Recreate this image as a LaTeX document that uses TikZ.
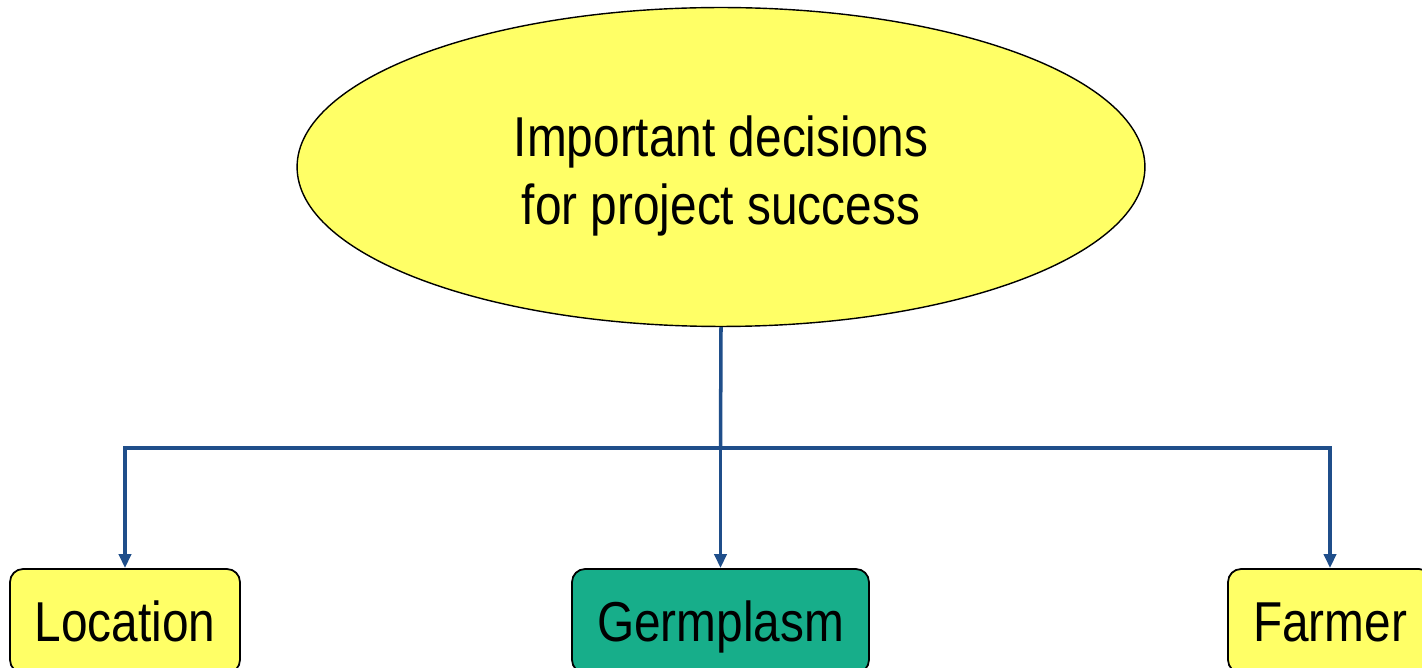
\documentclass[tikz,border=0pt]{standalone}
\usepackage{fontspec}
\setmainfont{Liberation Sans}[FakeStretch=0.85]
\usepackage{tikz}
\usetikzlibrary{shapes.geometric,arrows.meta}
\definecolor{boxyellow}{HTML}{FFFF66}
\definecolor{boxgreen}{HTML}{17AE8A}
\definecolor{linkblue}{HTML}{1F4E8A}
\begin{document}
\begin{tikzpicture}[x=0.02cm,y=-0.02cm,
  every node/.style={font=\fontsize{32}{39}\selectfont},
  choice/.style={draw=black,line width=1pt,rounded corners=0.26cm,minimum height=2.08cm,inner sep=0pt,text height=0.84cm,text depth=0cm},
  link/.style={draw=linkblue,line width=2pt},
  linkarrow/.style={link,-{Triangle[length=0.28cm,width=0.24cm]}}]
\useasboundingbox (0,0) rectangle (1422,668);
\node[ellipse,draw=black,line width=0.8pt,fill=boxyellow,minimum width=16.96cm,minimum height=6.38cm,inner sep=0pt,
  label={[align=center,yshift=-0.18cm]center:{Important decisions\\for project success}}] (goal) at (721,167) {};
\node[choice,fill=boxyellow,minimum width=4.6cm] (loc) at (125,621) {Location};
\node[choice,fill=boxgreen,minimum width=5.94cm] (germ) at (720.5,621) {Germplasm};
\node[choice,fill=boxyellow,minimum width=4.08cm] (farm) at (1330,621) {Farmer};
\coordinate (split) at (720.5,448);
\draw[link] (goal.south) -- (split);
\draw[linkarrow] (split) -| (loc);
\draw[linkarrow] (split) -- (germ);
\draw[linkarrow] (split) -| (farm);
\end{tikzpicture}
\end{document}
